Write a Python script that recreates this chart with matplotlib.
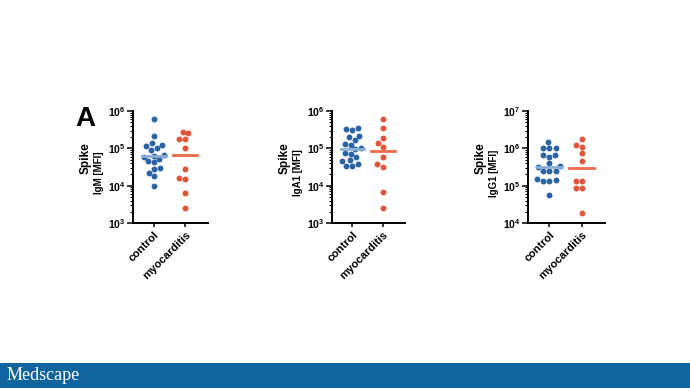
import matplotlib
matplotlib.use("Agg")
import matplotlib.pyplot as plt
import numpy as np
from matplotlib.patches import Rectangle

plt.rcParams['font.family'] = ['Liberation Sans', 'DejaVu Sans']
plt.rcParams['font.weight'] = 'bold'
plt.rcParams['mathtext.fontset'] = 'custom'
plt.rcParams['mathtext.bf'] = 'Liberation Sans:bold'
plt.rcParams['mathtext.rm'] = 'Liberation Sans:bold'

# values (MFI)
groups = ["control", "myocarditis"]

igm_control = [6.2e5, 2.1e5, 1.35e5, 1.2e5, 1.05e5, 1.15e5, 9.0e4, 6.0e4, 6.4e4,
               5.2e4, 6.8e4, 4.3e4, 4.5e4, 3.0e4, 2.8e4, 2.2e4, 1.8e4, 9.5e3]
igm_myo = [2.8e5, 2.5e5, 1.8e5, 1.8e5, 1.05e5, 2.8e4, 1.6e4, 1.5e4, 6.2e3, 2.5e3]

iga_control = [3.2e5, 3.4e5, 3.1e5, 2.2e5, 2.0e5, 1.7e5, 1.3e5, 1.25e5, 1.0e5,
               9.5e4, 7.5e4, 7.2e4, 5.8e4, 4.9e4, 4.5e4, 3.7e4, 3.4e4, 3.4e4]
iga_myo = [6.1e5, 3.4e5, 1.9e5, 1.35e5, 1.07e5, 6.0e4, 3.8e4, 3.2e4, 6.7e3, 2.5e3]

igg_control = [1.45e6, 1.0e6, 1.0e6, 1.0e6, 6.8e5, 6.5e5, 6.0e5, 4.0e5, 3.3e5,
               3.2e5, 2.5e5, 2.5e5, 2.4e5, 1.5e5, 1.35e5, 1.35e5, 1.4e5, 5.6e4]
igg_myo = [1.8e6, 1.25e6, 1.1e6, 7.4e5, 4.7e5, 1.35e5, 1.35e5, 8.9e4, 8.9e4, 1.85e4]

# y-axis decades (exponents) per panel
exps_igm = [3, 4, 5, 6]
exps_iga = [3, 4, 5, 6]
exps_igg = [4, 5, 6, 7]

panels = [
    (igm_control, igm_myo, exps_igm, "IgM", (133, 111, 208, 223)),
    (iga_control, iga_myo, exps_iga, "IgA1", (332, 111, 405, 223)),
    (igg_control, igg_myo, exps_igg, "IgG1", (528, 111, 605, 223)),
]

W, H = 690, 388
blue = "#2A63A3"
red = "#E2553A"
blue_line = "#8AAED6"
red_line = "#EE6B4C"


def swarm(ax, xc, values, d):
    # simple beeswarm in pixel space, returns x positions in data units
    pts = np.column_stack([np.full(len(values), xc), values])
    ypix = ax.transData.transform(pts)[:, 1]
    order = np.argsort(ypix)
    placed = []
    xs = np.zeros(len(values))
    for i in order:
        y = ypix[i]
        cands = [0.0]
        for px, py in placed:
            dy = abs(py - y)
            if dy < d:
                dx = np.sqrt(d * d - dy * dy)
                cands += [px + dx, px - dx]
        cands.sort(key=lambda c: (abs(c), c))
        for c in cands:
            if all((c - px) ** 2 + (y - py) ** 2 >= d * d - 1e-6 for px, py in placed):
                xs[i] = c
                break
        placed.append((xs[i], y))
    x0 = ax.transData.transform((0, 1))[0]
    x1 = ax.transData.transform((1, 1))[0]
    return xc + xs / (x1 - x0)


fig = plt.figure(figsize=(W / 100, H / 100), dpi=100)

for ctrl, myo, exps, iso, (l, t, r, b) in panels:
    ax = fig.add_axes([l / W, (H - b) / H, (r - l) / W, (b - t) / H])
    ax.set_yscale('log')
    ax.set_ylim(10.0 ** exps[0], 10.0 ** exps[-1])
    ax.set_xlim(-0.66, 1.72)
    for k, (vals, col, lcol) in enumerate([(ctrl, blue, blue_line), (myo, red, red_line)]):
        xs = swarm(ax, k, vals, 6.2)
        ax.scatter(xs, vals, s=18, color=col, linewidths=0, zorder=3)
        med = np.median(vals)
        ax.plot([k - 0.38, k + 0.38], [med, med], color=lcol, lw=2.0, zorder=4)

    ax.set_yticks([10.0 ** e for e in exps])
    ax.set_yticklabels([r'$\mathbf{10^{%d}}$' % e for e in exps], fontsize=7.5)
    ax.yaxis.set_minor_locator(matplotlib.ticker.LogLocator(base=10, subs=np.arange(2, 10)))
    ax.yaxis.set_minor_formatter(matplotlib.ticker.NullFormatter())
    ax.tick_params(axis='y', which='major', length=4, width=1.1, pad=1.5)
    ax.tick_params(axis='y', which='minor', length=2, width=0.8)
    ax.set_xticks([0, 1])
    ax.set_xticklabels(groups, rotation=45, ha='right', rotation_mode='anchor',
                       fontsize=8, fontweight='bold')
    ax.tick_params(axis='x', length=3, width=1.1, pad=2)
    for s in ['top', 'right']:
        ax.spines[s].set_visible(False)
    for s in ['left', 'bottom']:
        ax.spines[s].set_linewidth(1.4)

    fig.text((l - 47) / W, 1 - 158 / H, "Spike", rotation=90, ha='center', va='center',
             fontsize=8.5, fontweight='bold')
    fig.text((l - 34) / W, 1 - 173 / H, f"{iso} [MFI]", rotation=90, ha='center',
             va='center', fontsize=7, fontweight='bold')

fig.text(85 / W, 1 - 119 / H, "A", ha='center', va='center', fontsize=20,
         fontweight='bold')

# footer banner
fig.patches.append(Rectangle((0, 0), 1, 25 / H, transform=fig.transFigure,
                             facecolor="#11659F", edgecolor='none', zorder=0))
fig.text(7 / W, 12.5 / H, "Medscape", color='white', ha='left', va='center',
         fontsize=13, fontweight='normal', family='Liberation Serif')

fig.savefig("out.png", dpi=100, facecolor='white')
